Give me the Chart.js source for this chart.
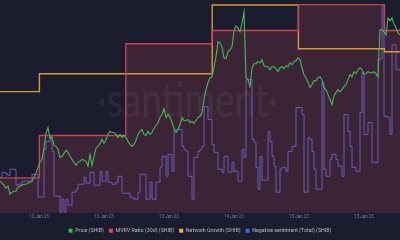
<!DOCTYPE html>
<html>
<head>
<meta charset="utf-8">
<script src="https://cdn.jsdelivr.net/npm/chart.js@4.4.1/dist/chart.umd.min.js"></script>
<style>
    html, body { margin: 0; padding: 0; background: #1b1d2f; }
    canvas { display: block; }
</style>
</head>
<body>
<canvas id="chart" width="400" height="240"></canvas>
<script>
// SHIB, 11-16 Jan 2023. Price and sentiment are sampled every ~33 min (sample index on x)
// Price in USD x 1e-6
const price = [
    8.64, 8.60, 8.56, 8.50, 8.54, 8.38, 8.42, 8.44, 8.44, 8.52,
    8.54, 8.56, 8.58, 8.58, 8.60, 8.62, 8.64, 8.72, 8.80, 8.92,
    9.02, 9.08, 9.32, 9.60, 9.72, 9.50, 9.52, 9.36, 9.34, 9.28,
    9.12, 9.14, 9.20, 9.26, 9.22, 9.14, 9.08, 9.02, 8.96, 9.02,
    9.04, 9.08, 9.06, 9.04, 8.94, 9.18, 8.96, 9.14, 9.30, 9.34,
    9.40, 9.48, 9.40, 9.48, 9.58, 9.64, 9.62, 9.62, 9.58, 9.52,
    9.58, 9.52, 9.56, 9.52, 9.44, 9.38, 9.34, 9.38, 9.46, 9.58,
    9.64, 9.68, 9.58, 9.56, 9.64, 9.58, 9.62, 9.70, 9.76, 9.82,
    9.92, 9.98, 10.10, 9.92, 9.98, 9.92, 9.82, 9.70, 9.62, 9.68,
    9.78, 9.92, 9.86, 9.86, 9.88, 9.82, 9.84, 9.80, 9.86, 9.92,
    9.94, 10.02, 10.28, 10.48, 10.62, 10.72, 10.74, 10.92, 11.14, 11.44,
    11.42, 11.34, 11.12, 11.10, 11.24, 11.28, 11.34, 11.66, 11.76, 11.72,
    11.64, 11.82, 12.04, 10.72, 10.68, 10.54, 10.92, 11.00, 11.00, 11.04,
    11.02, 11.08, 10.96, 10.94, 10.94, 10.88, 10.94, 10.94, 10.90, 10.84,
    10.92, 10.94, 10.90, 10.96, 10.94, 11.02, 10.98, 11.04, 11.06, 11.12,
    11.08, 10.92, 10.78, 10.72, 10.62, 10.52, 10.58, 10.66, 10.66, 10.72,
    10.74, 10.68, 10.52, 10.48, 10.38, 10.28, 10.18, 10.36, 10.42, 10.48,
    10.44, 10.48, 10.54, 10.58, 10.68, 10.78, 10.74, 10.84, 10.80, 10.88,
    10.92, 10.88, 10.80, 10.80, 10.84, 10.82, 10.82, 10.84, 10.80, 10.74,
    11.68, 11.68, 11.64, 11.58, 11.92, 11.86, 11.92, 11.80, 11.72, 11.62,
    11.58
];
const sentiment = [
    36, 41, 41, 39, 38, 44, 44, 44, 28, 29,
    29, 32, 32, 32, 32, 32, 39, 39, 39, 16,
    16, 16, 64, 72, 72, 77, 62, 17, 17, 17,
    1, 14, 1, 14, 8, 8, 21, 21, 24, 29,
    29, 29, 36, 30, 30, 41, 41, 28, 28, 28,
    42, 32, 32, 42, 31, 31, 29, 29, 31, 37,
    37, 20, 20, 20, 20, 16, 15, 14, 14, 21,
    39, 39, 39, 14, 14, 31, 14, 14, 31, 31,
    46, 57, 57, 37, 59, 59, 42, 84, 84, 84,
    84, 67, 64, 62, 37, 37, 14, 56, 56, 62,
    64, 67, 107, 107, 94, 94, 69, 61, 61, 44,
    44, 41, 57, 57, 41, 41, 51, 42, 42, 32,
    32, 64, 56, 134, 134, 134, 74, 71, 46, 24,
    57, 33, 33, 33, 82, 72, 57, 47, 21, 21,
    44, 46, 46, 42, 62, 62, 67, 67, 106, 106,
    106, 99, 21, 21, 76, 74, 62, 44, 24, 24,
    24, 131, 44, 37, 37, 54, 59, 59, 54, 47,
    47, 37, 99, 99, 82, 67, 46, 46, 42, 42,
    101, 141, 79, 79, 91, 91, 51, 51, 51, 155,
    155, 209, 97, 97, 96, 79, 169, 169, 144, 144,
    144
];
// daily metrics, each value starts at its dayStart sample
const dayStart = [0, 19.7, 62.9, 106.1, 149.2, 192.2];
const mvrv = [0.3, 6.7, 20.5, 22.5, 26.4, 22.5]; // %
const networkGrowth = [1220, 1400, 1400, 2090, 1650, 1620];

const tickPos = [19.5, 52, 84.5, 117, 149.5, 182];
const tickLabels = ['12 Jan 23', '12 Jan 23', '13 Jan 23', '14 Jan 23', '15 Jan 23', '15 Jan 23'];
const seriesNames = ['Price (SHIB)', 'MVRV Ratio (30d) (SHIB)', 'Network Growth (SHIB)', 'Negative sentiment (Total) (SHIB)'];

const lastSample = price.length - 1;
const toPoints = arr => arr.map((v, i) => ({ x: i, y: v }));
const toDaily = arr => dayStart.map((x, k) => ({ x: x, y: arr[k] }))
    .concat({ x: lastSample, y: arr[arr.length - 1] });

const legendColors = ['#2fbf4a', '#e5484d', '#f0b43c', '#4466ee'];

// dark backdrop + faint watermark
const backdrop = {
    id: 'backdrop',
    beforeDraw(chart) {
        const c = chart.ctx;
        c.save();
        c.fillStyle = '#1b1d2f';
        c.fillRect(0, 0, chart.width, chart.height);
        c.restore();
    },
    beforeDatasetsDraw(chart) {
        const c = chart.ctx;
        const text = '\u00B7santiment\u00B7';
        c.save();
        c.font = '400 48px Lato';
        c.fillStyle = 'rgba(255, 255, 255, 0.06)';
        c.textAlign = 'center';
        c.textBaseline = 'alphabetic';
        const w = c.measureText(text).width;
        c.translate(187.5, 117);
        c.scale(181 / w, 1);
        c.fillText(text, 0, 0);
        c.restore();
    }
};

const ctx = document.getElementById('chart').getContext('2d');
new Chart(ctx, {
    type: 'line',
    data: {
        datasets: [
            {
                label: seriesNames[0],
                data: toPoints(price),
                yAxisID: 'yPrice',
                borderColor: '#46bb56',
                borderWidth: 1.1,
                pointRadius: 0,
                fill: false
            },
            {
                label: seriesNames[1],
                data: toDaily(mvrv),
                yAxisID: 'yMvrv',
                stepped: true,
                borderColor: '#cc4250',
                backgroundColor: 'rgba(214, 70, 84, 0.17)',
                borderWidth: 1.4,
                pointRadius: 0,
                fill: 'start'
            },
            {
                label: seriesNames[2],
                data: toDaily(networkGrowth),
                yAxisID: 'yNet',
                stepped: true,
                borderColor: '#d49b36',
                borderWidth: 1.4,
                pointRadius: 0,
                fill: false
            },
            {
                label: seriesNames[3],
                data: toPoints(sentiment),
                yAxisID: 'ySent',
                stepped: true,
                borderColor: 'rgba(118, 106, 214, 0.8)',
                borderWidth: 1,
                pointRadius: 0,
                fill: false
            }
        ]
    },
    options: {
        responsive: false,
        animation: false,
        layout: { autoPadding: false, padding: { top: 0, left: 0, right: 0, bottom: -3.4 } },
        scales: {
            x: {
                type: 'linear',
                min: 0,
                max: lastSample,
                grid: { display: false, drawTicks: false },
                border: { display: false },
                ticks: {
                    autoSkip: false,
                    maxRotation: 0,
                    padding: 1,
                    color: '#7c8296',
                    font: { size: 4.5, family: 'Roboto' },
                    callback: (v, i) => tickLabels[i]
                },
                afterBuildTicks: axis => { axis.ticks = tickPos.map(value => ({ value })); },
                afterFit: axis => { axis.height = 10; }
            },
            yPrice: { display: false, min: 8, max: 12.28 },
            yMvrv: { display: false, min: -5, max: 27.1 },
            yNet: { display: false, min: 0, max: 2140 },
            ySent: { display: false, min: 0, max: 214 }
        },
        plugins: {
            filler: { drawTime: 'beforeDatasetsDraw' },
            tooltip: { enabled: false },
            legend: {
                position: 'bottom',
                labels: {
                    boxWidth: 4,
                    boxHeight: 4,
                    padding: 5,
                    color: '#b9bdc9',
                    font: { size: 5.3, family: 'Roboto' },
                    generateLabels: chart => Chart.defaults.plugins.legend.labels.generateLabels(chart)
                        .map((item, i) => Object.assign(item, {
                            fillStyle: legendColors[i],
                            strokeStyle: legendColors[i],
                            lineWidth: 0
                        }))
                }
            }
        }
    },
    plugins: [backdrop]
});
</script>
</body>
</html>
